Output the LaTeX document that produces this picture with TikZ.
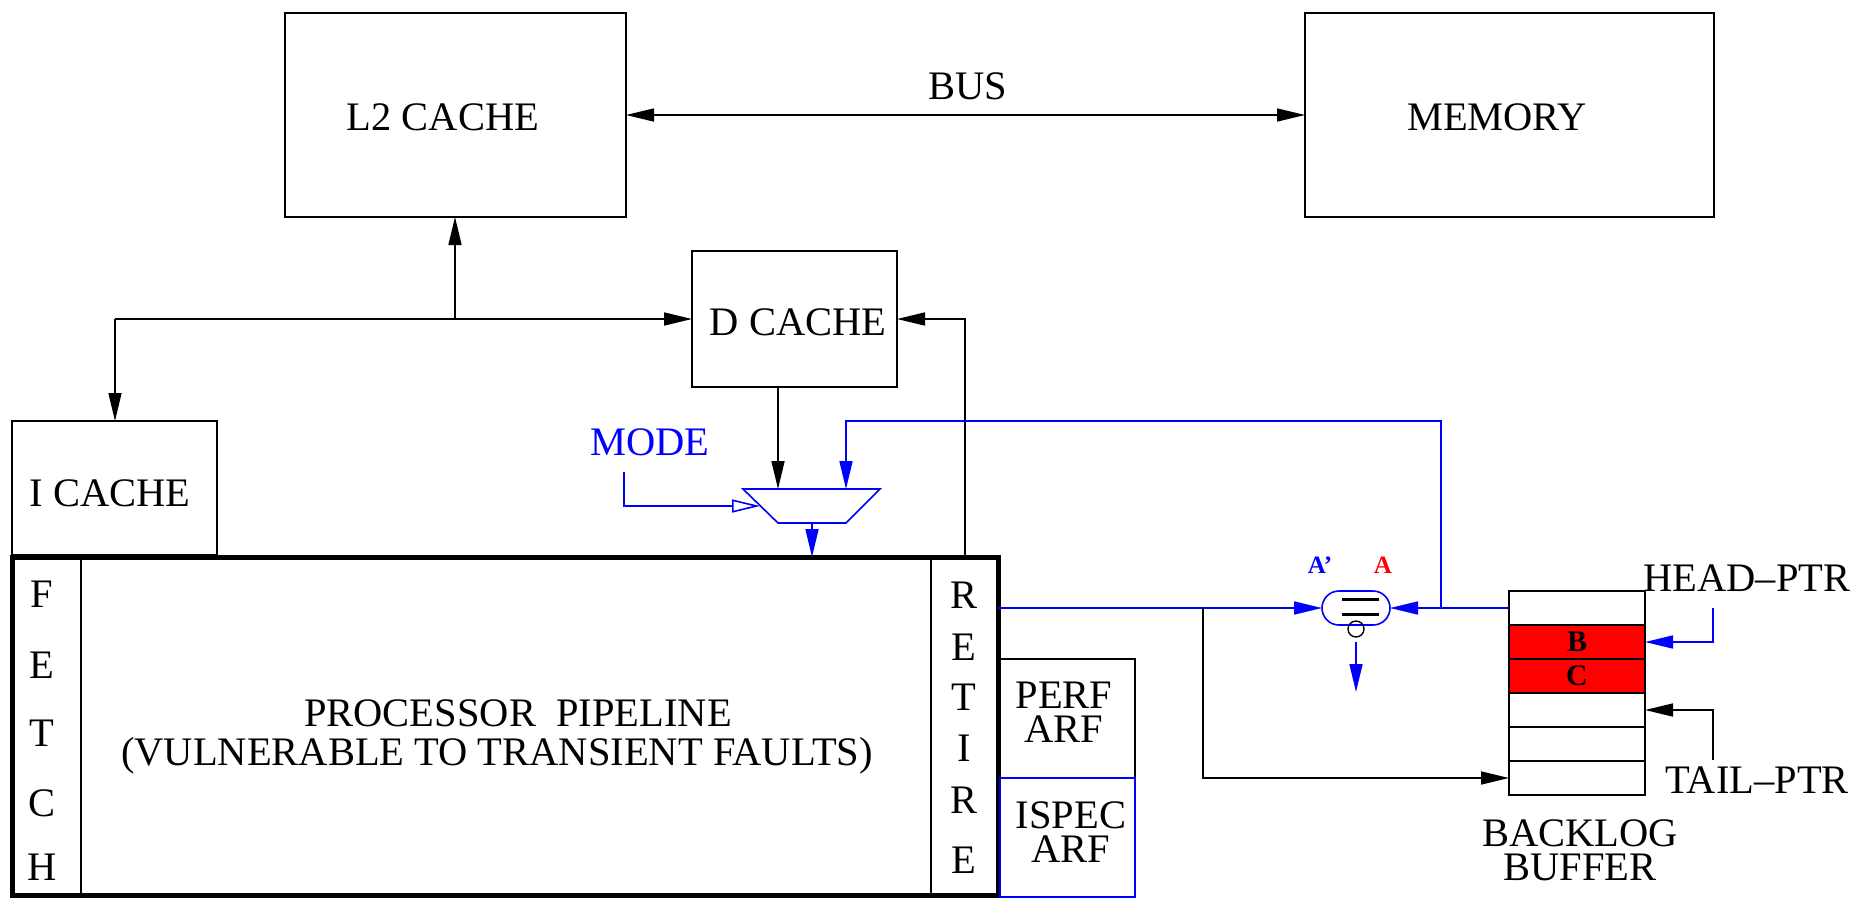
\documentclass[tikz,border=0pt]{standalone}
\usepackage{fontspec}
\setmainfont{Liberation Serif}
\usetikzlibrary{arrows.meta,shapes.misc,calc}
\begin{document}
\begin{tikzpicture}[x=1pt,y=-1pt,
  line width=1.6pt,
  box/.style={draw=black, line width=1.6pt, inner sep=0pt, outer sep=0pt, anchor=north west},
  lbl/.style={font=\fontsize{40.5}{34}\selectfont, inner sep=0pt},
  tag/.style={font=\bfseries\fontsize{25}{25}\selectfont, inner sep=0pt},
  arr/.style={-{Triangle[length=28pt,width=13pt]}},
  barr/.style={draw=blue, -{Triangle[length=28pt,width=13pt]}},
]
\useasboundingbox (0,0) rectangle (1862,898);

% top level
\node[box, minimum width=341pt, minimum height=204pt] (l2) at (285,13) {};
\node[lbl] (l2t) at (443,117) {L2 CACHE};
\node[box, minimum width=409pt, minimum height=204pt] (mem) at (1305,13) {};
\node[lbl] (memt) at (1497,117) {MEMORY};
\node[lbl] (bus) at (968,86) {BUS};
\draw[{Triangle[length=28pt,width=13pt]}-{Triangle[length=28pt,width=13pt]}] (l2.east) -- (mem.west);

% caches
\node[box, minimum width=205pt, minimum height=136pt] (dc) at (692,251) {};
\node[lbl] (dct) at (798,322) {D CACHE};
\node[box, minimum width=205pt, minimum height=134pt] (ic) at (12,421) {};
\node[lbl] (ict) at (110,493) {I CACHE};

\coordinate (j1) at (455,319);
\coordinate (j2) at (115,319);
\draw[arr] (j1) -- (j1 |- l2.south);
\draw[arr] (j2) -- (dc.west);
\draw[arr] (j2) -- (j2 |- ic.north);

% pipeline
\node[box, line width=5pt, minimum width=986pt, minimum height=338pt] (pp) at (12,557) {};
\draw[line width=1.2pt] (81,557) -- (81,895);
\draw[line width=1.2pt] (931,557) -- (931,895);
\foreach \ch/\yy in {F/594,E/665,T/733,C/803,H/867}
  \node[lbl] at (42,\yy) {\ch};
\foreach \ch/\yy in {R/595,E/647,T/697,I/748,R/800,E/860}
  \node[lbl] at (964,\yy) {\ch};
\node[lbl] (ppt1) at (518,713) {PROCESSOR\ \ PIPELINE};
\node[lbl] (ppt2) at (497,756) {(VULNERABLE TO TRANSIENT FAULTS)};

% ARF boxes
\node[box, minimum width=135pt, minimum height=119pt] (perf) at (1000,659) {};
\node[lbl, align=center] (perft) at (1064,712) {PERF\\ARF};
\node[box, draw=blue, minimum width=135pt, minimum height=119pt] (ispec) at (1000,778) {};
\node[lbl, align=center] (ispect) at (1071,832) {ISPEC\\ARF};

% mux
\draw[blue, line width=1.6pt] (743,489) -- (880,489) -- (846,523) -- (778,523) -- cycle;
\coordinate (muxin1) at (778,489);
\coordinate (muxin2) at (846,489);
\coordinate (muxout) at (812,523);
\coordinate (muxsel) at (760,506);
\draw[arr] (dc.south -| muxin1) -- (muxin1);
\draw[barr] (muxout) -- (muxout |- pp.north);
\node[lbl, text=blue] (mode) at (650,442) {MODE};
\coordinate (modestart) at (624,472);
\draw[blue, -{Triangle[open,length=28pt,width=13pt]}] (modestart) |- (muxsel);
\coordinate (rettop) at (965,557);
\draw[arr] (rettop) |- (dc.east);

% comparator
\node[draw=blue, rounded rectangle, minimum width=68pt, minimum height=34pt, inner sep=0pt, outer sep=0pt] (cmp) at (1356,608) {};
\draw[line width=3pt] (1342,599) -- (1379,599);
\draw[line width=3pt] (1342,614) -- (1379,614);
\node[draw, circle, minimum size=16pt, inner sep=0pt, outer sep=0pt, line width=1.4pt] (inv) at (1356,629) {};
\coordinate (cmpout) at (1356,692);
\draw[barr] ($(inv.south)+(0,5)$) -- (cmpout);
\node[tag, text=blue] (aprime) at (1320,565) {A'};
\node[tag, text=red] (atag) at (1383,565) {A};

% backlog buffer
\foreach \i/\yy/\fc/\tx in {1/591/white/,2/625/red/B,3/659/red/C,4/693/white/,5/727/white/,6/761/white/}
  \node[box, fill=\fc, minimum width=136pt, minimum height=34pt, font=\bfseries\fontsize{30}{30}\selectfont] (r\i) at (1509,\yy) {\tx};
\node[lbl, align=center] (bbt) at (1580,850) {BACKLOG\\BUFFER};
\node[lbl] (hp) at (1747,578) {HEAD--PTR};
\node[lbl] (tp) at (1757,780) {TAIL--PTR};
\coordinate (hpstart) at (1713,608);
\coordinate (tpstart) at (1713,760);
\draw[barr] (hpstart) |- (r2.east);
\draw[arr] (tpstart) |- (r4.east);

% data paths
\draw[barr] (pp.east |- cmp.west) -- (cmp.west);
\coordinate (br1) at (1203,608);
\draw[arr] (br1) |- (r6.west);
\draw[barr] (r1.west) -- (cmp.east);
\coordinate (br2) at (1441,608);
\coordinate (loopy) at (0,421);
\draw[barr] (br2) -- (br2 |- loopy) -| (muxin2);
\end{tikzpicture}
\end{document}
